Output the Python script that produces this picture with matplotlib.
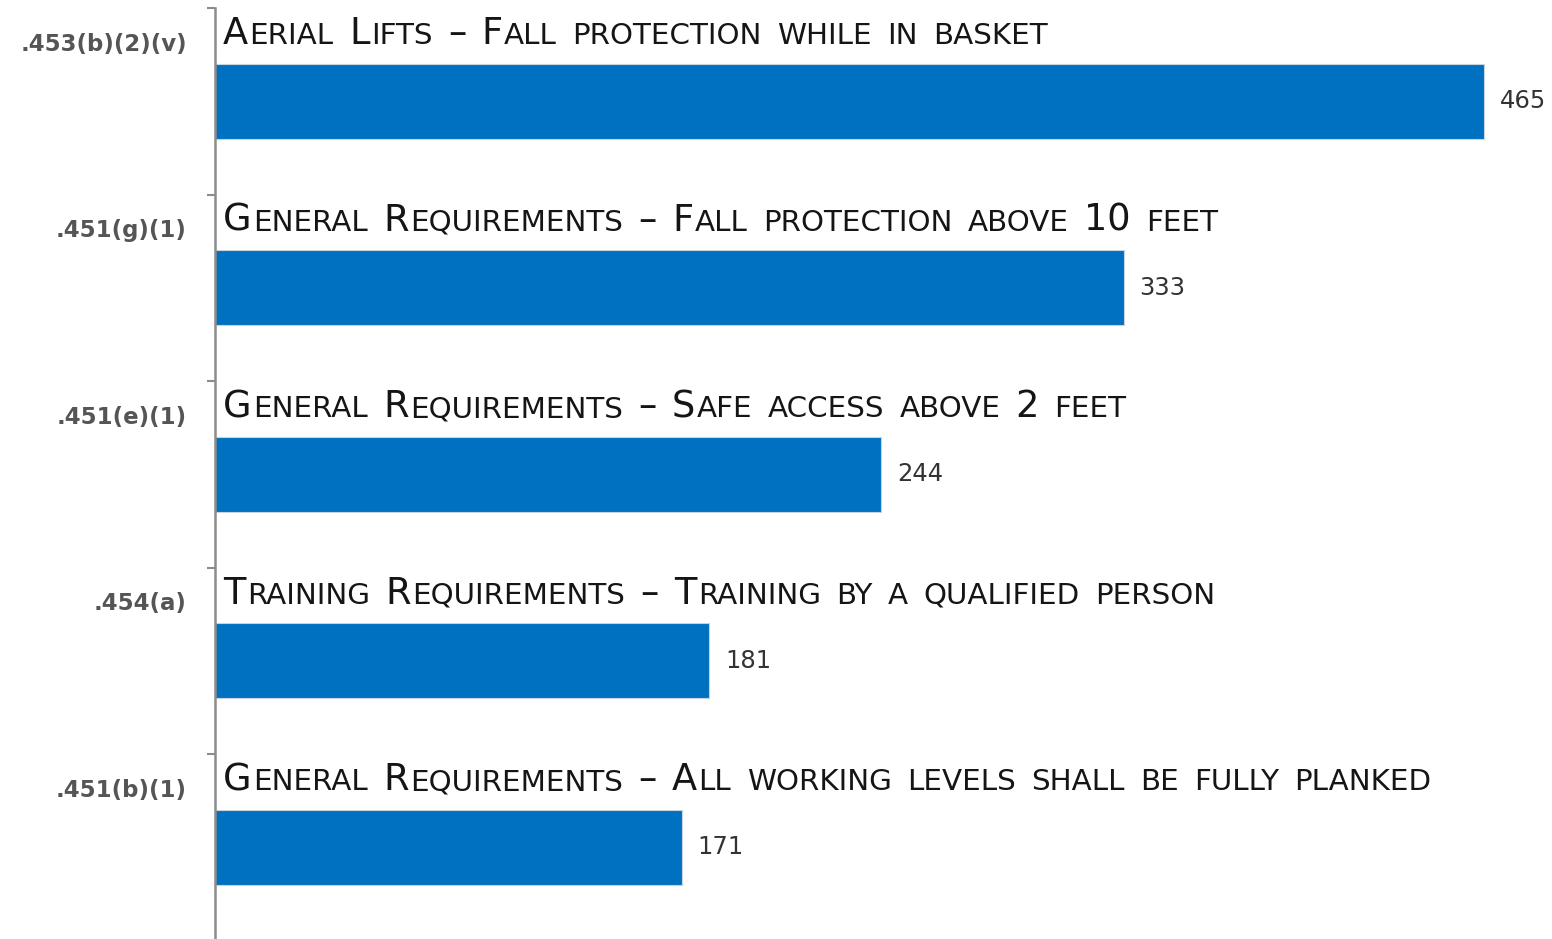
import matplotlib
matplotlib.use('Agg')
import matplotlib.pyplot as plt
from matplotlib.ticker import FixedLocator, NullLocator
from matplotlib.font_manager import FontProperties

codes = ['.453(b)(2)(v)', '.451(g)(1)', '.451(e)(1)', '.454(a)', '.451(b)(1)']
titles = ['Aerial Lifts – Fall protection while in basket',
          'General Requirements – Fall protection above 10 feet',
          'General Requirements – Safe access above 2 feet',
          'Training Requirements – Training by a qualified person',
          'General Requirements – All working levels shall be fully planked']
values = [465, 333, 244, 181, 171]

DPI = 100
W, H = 1552, 939
fig = plt.figure(figsize=(W / DPI, H / DPI), dpi=DPI)
ax = fig.add_axes([215 / W, -1.5 / H, 1 - 215 / W, 932.5 / H])
ypos = list(range(len(values)))
ax.barh(ypos, values, height=0.40, color='#0070C0', edgecolor='#c8d4e0', linewidth=0.8)
ax.set_ylim(len(values) - 0.5, -0.5)
ax.set_xlim(0, 490)
for s in ['top', 'right', 'bottom']:
    ax.spines[s].set_visible(False)
ax.spines['left'].set_color('#8c8c8c')
ax.spines['left'].set_linewidth(1.8)
ax.xaxis.set_visible(False)
ax.yaxis.set_major_locator(NullLocator())
ax.yaxis.set_minor_locator(FixedLocator([i - 0.5 for i in range(len(values) + 1)]))
ax.tick_params(axis='y', which='minor', length=6, width=1.5, color='#8c8c8c', direction='out')

renderer = fig.canvas.get_renderer()
TITLE_FONT = 'DejaVu Sans'
BIG = 26.5
RATIO = 0.80


def text_width(s, size):
    prop = FontProperties(family=TITLE_FONT, size=size)
    w, h, d = renderer.get_text_width_height_descent(s, prop, ismath=False)
    return w


def smallcaps(y, s, x_off):
    space_w = (text_width('A A', BIG) - text_width('AA', BIG)) * 1.3
    runs = []
    for ch in s:
        if ch == ' ':
            runs.append([' ', None])
            continue
        small = ch.islower()
        c = ch.upper() if small else ch
        if runs and runs[-1][1] == small:
            runs[-1][0] += c
        else:
            runs.append([c, small])
    dx = x_off
    for txt, small in runs:
        if small is None:
            dx += space_w
            continue
        size = BIG * RATIO if small else BIG
        ax.annotate(txt, xy=(0, y), xycoords='data', xytext=(dx, 0),
                    textcoords='offset pixels', ha='left', va='baseline',
                    fontsize=size, family=TITLE_FONT, color='#151515')
        dx += text_width(txt, size) + 1.5


for i, (c, t, v) in enumerate(zip(codes, titles, values)):
    smallcaps(i - 0.306, t, 8)
    ax.annotate(c, xy=(0, i - 0.271), xycoords='data', xytext=(-28, 0),
                textcoords='offset pixels', ha='right', va='baseline',
                fontsize=16.5, family='DejaVu Sans', fontweight='bold', color='#555555',
                annotation_clip=False)
    ax.annotate(str(v), xy=(v, i), xycoords='data', xytext=(16, 0),
                textcoords='offset pixels', ha='left', va='center',
                fontsize=17.5, family='DejaVu Sans', color='#333333')

fig.savefig('out.png', dpi=DPI)
